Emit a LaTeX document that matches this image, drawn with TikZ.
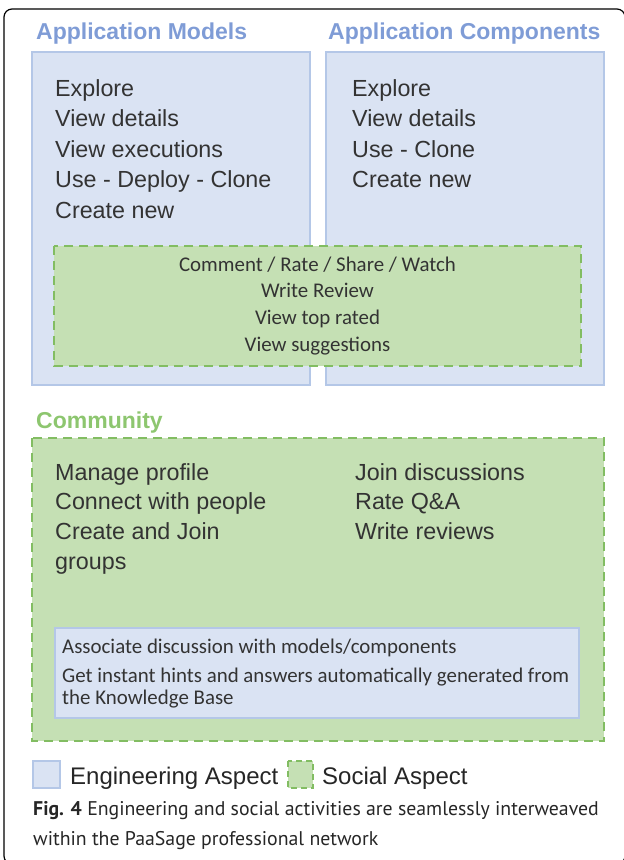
\documentclass[tikz,border=0pt]{standalone}
\usepackage{fontspec}
\setmainfont{Liberation Sans}
\newfontfamily\calib{Carlito}
\newfontfamily\capfont{PT Sans}
\definecolor{bfill}{HTML}{DAE3F3}
\definecolor{bdraw}{HTML}{B4C7E7}
\definecolor{gfill}{HTML}{C5E0B4}
\definecolor{gdraw}{HTML}{82BD62}
\definecolor{tblue}{HTML}{7F9CD6}
\definecolor{tgreen}{HTML}{8DC66F}
\definecolor{txt}{HTML}{333333}
\tikzset{
  engbox/.style={draw=bdraw, fill=bfill, line width=1.5pt},
  socbox/.style={draw=gdraw, fill=gfill, line width=2.6pt, dash pattern=on 9pt off 6pt},
  title/.style={anchor=base west, inner sep=0, font=\fontsize{23}{27}\selectfont\bfseries},
  item/.style={anchor=base west, inner sep=0, text=txt, font=\fontsize{23.3}{27}\selectfont},
  legtxt/.style={anchor=base west, inner sep=0, text=black!85, font=\fontsize{24}{28}\selectfont},
  citem/.style={anchor=base, inner sep=0, text=txt, font=\calib\fontsize{20.9}{24}\selectfont},
  kitem/.style={anchor=base west, inner sep=0, text=txt, font=\calib\fontsize{20.9}{24}\selectfont},
  captxt/.style={anchor=base west, inner sep=0, text=black!85, font=\capfont\fontsize{19.8}{24}\selectfont},
}
\begin{document}
\begin{tikzpicture}[x=1pt,y=-1pt]
\useasboundingbox (0,0) rectangle (624,860);
\begin{scope}
\clip (0,0) rectangle (624,860);
\draw[line width=1.2pt, rounded corners=8pt] (4,9) rectangle (625,864);
\end{scope}

% engineering boxes
\draw[engbox] (32,52) rectangle (310,385);
\draw[engbox] (326,52) rectangle (604,385);
\node[title, text=tblue] (tam) at (36,39) {Application Models};
\node[title, text=tblue] (tac) at (328,39) {Application Components};

\foreach \t [count=\i] in {Explore, View details, View executions, Use - Deploy - Clone, Create new}
  \node[item] (am\i) at (55,96+30.5*\i-30.5) {\t};
\foreach \t [count=\i] in {Explore, View details, Use - Clone, Create new}
  \node[item] (ac\i) at (352,96+30.5*\i-30.5) {\t};

% shared social box
\draw[socbox] (54,246) rectangle (581,366);
\foreach \t [count=\i] in {Comment / Rate / Share / Watch, Write Review, View top rated, View suggestions}
  \node[citem] (sh\i) at (317.5,271+26.7*\i-26.7) {\t};

% community
\node[title, text=tgreen] (tcom) at (36,428) {Community};
\draw[socbox] (32,438) rectangle (604,741);
\foreach \t [count=\i] in {Manage profile, Connect with people, Create and Join, groups}
  \node[item] (cl\i) at (55,480+29.8*\i-29.8) {\t};
\foreach \t [count=\i] in {Join discussions, Rate Q\&A, Write reviews}
  \node[item] (cr\i) at (355,480+29.8*\i-29.8) {\t};

\draw[engbox] (55,628) rectangle (579,718);
\node[kitem] (k1) at (62,653) {Associate discussion with models/components};
\node[kitem] (k2) at (62,682) {Get instant hints and answers automatically generated from};
\node[kitem] (k3) at (62,704) {the Knowledge Base};

% legend
\draw[engbox] (33,761) rectangle (60,788);
\node[legtxt] (le) at (70,784) {Engineering Aspect};
\draw[socbox, line width=2pt, dash pattern=on 6pt off 4pt] (288,761) rectangle (313,788);
\node[legtxt] (ls) at (322,784) {Social Aspect};

% caption
\node[captxt] (c1) at (33,815) {\textbf{Fig. 4} Engineering and social activities are seamlessly interweaved};
\node[captxt] (c2) at (33,845) {within the PaaSage professional network};
\end{tikzpicture}
\end{document}
